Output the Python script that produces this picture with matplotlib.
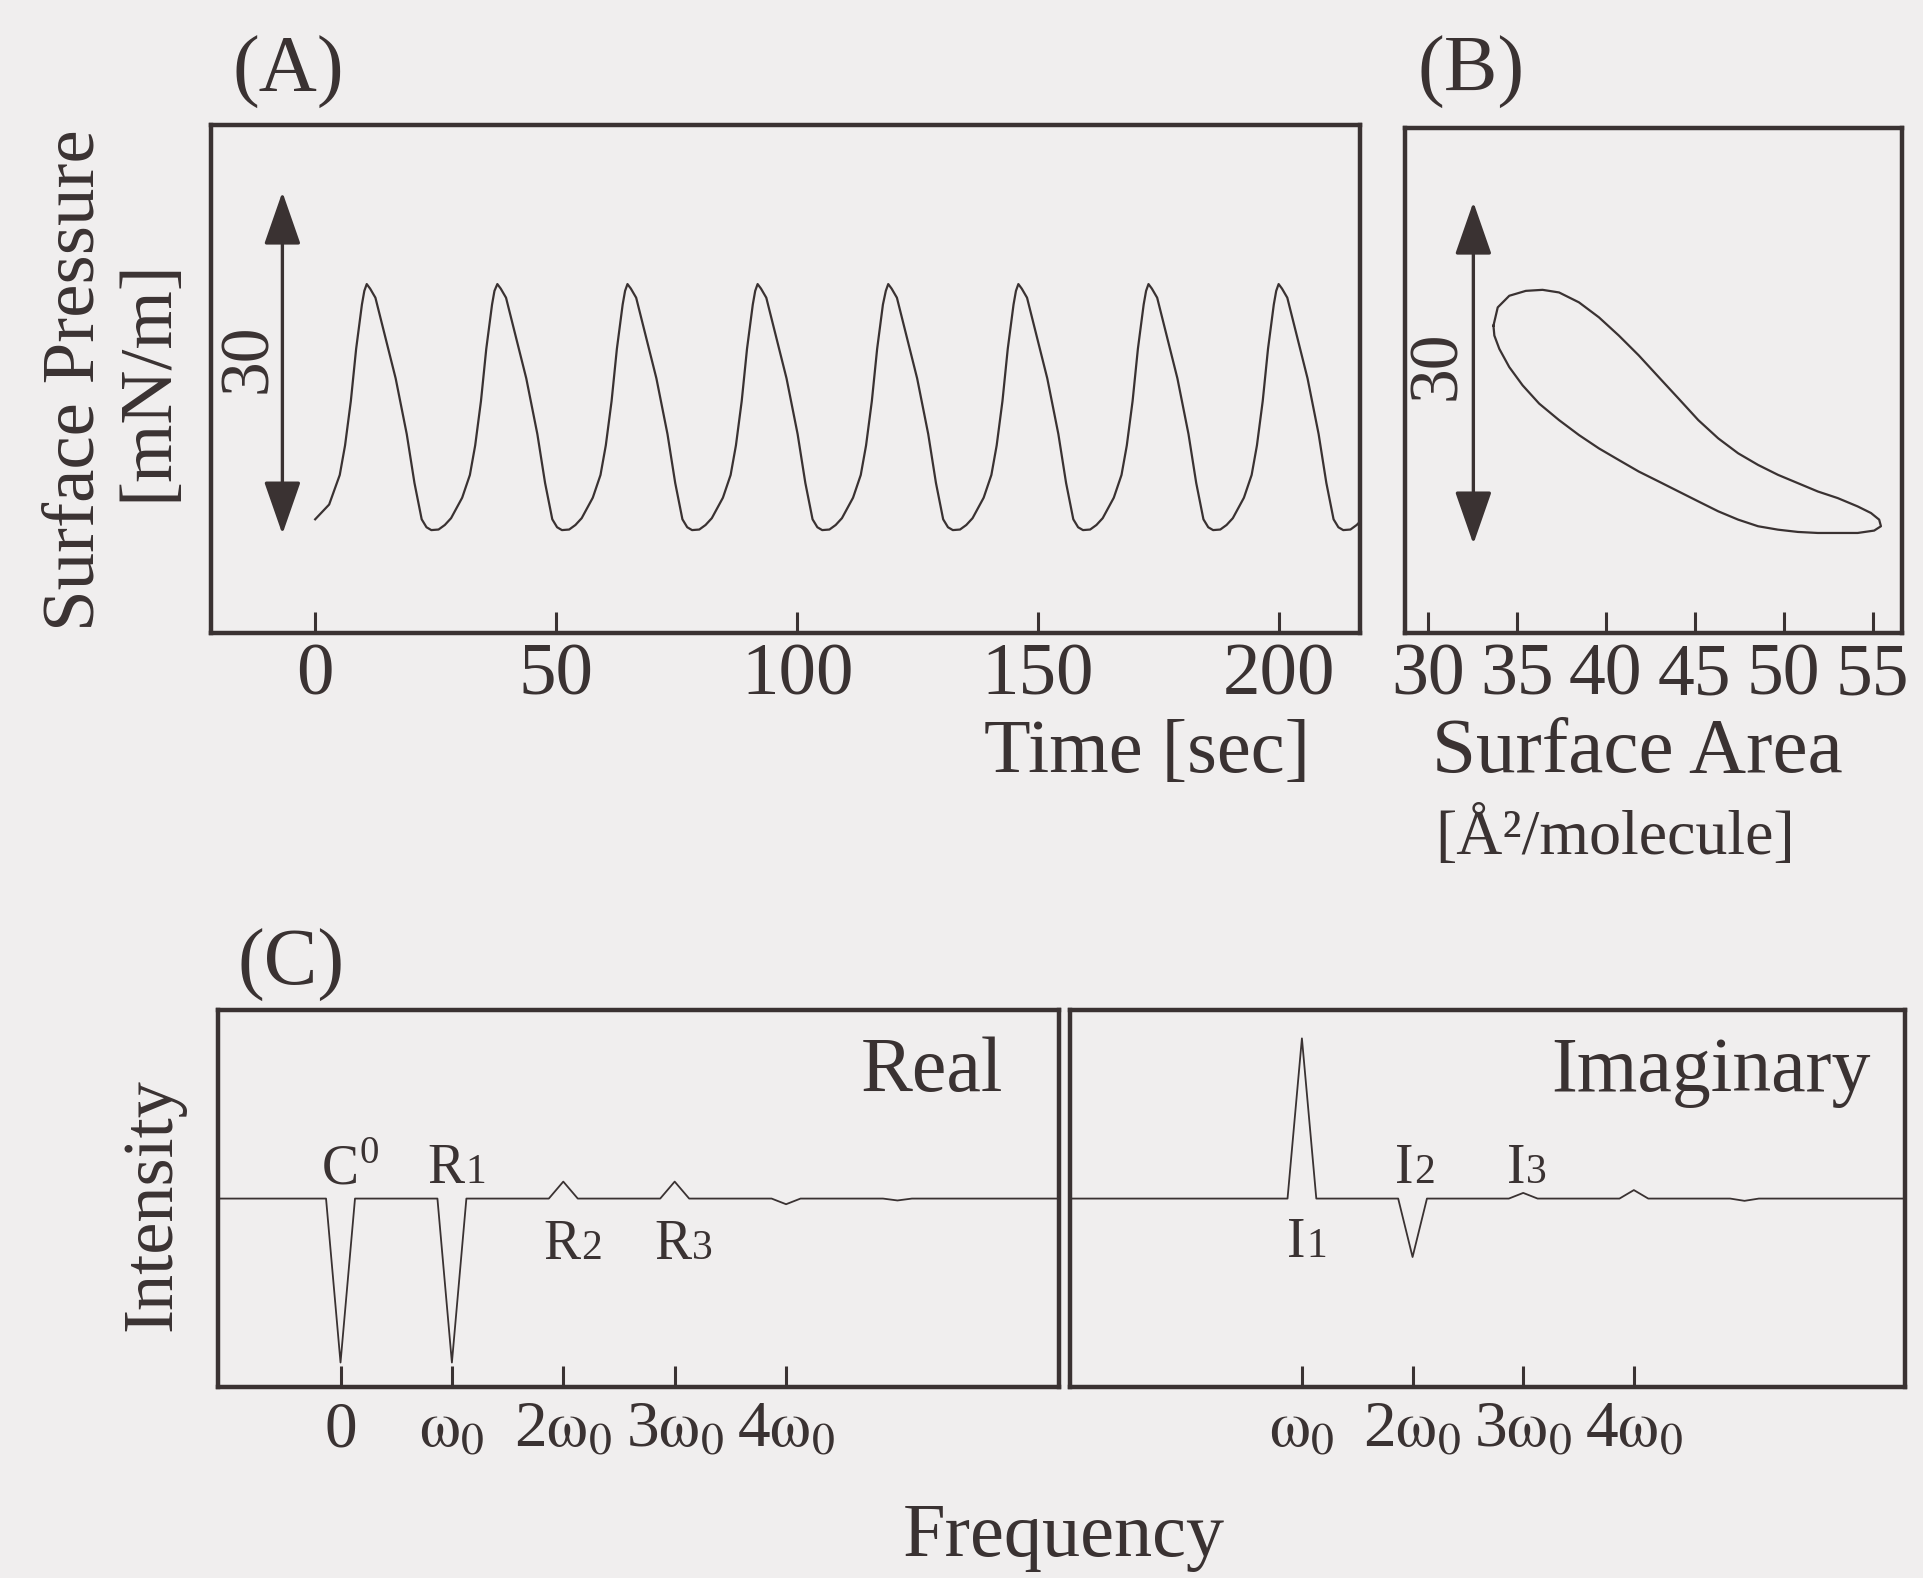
import matplotlib
matplotlib.use('Agg')
import matplotlib.pyplot as plt

plt.rcParams['font.family'] = ['Liberation Serif', 'DejaVu Serif']
plt.rcParams['mathtext.fontset'] = 'stix'

ink = '#3a3232'
paper = '#f0eeee'

# (A) surface pressure oscillation
time_s = [0.0, 2.9, 5.1, 6.2, 7.4, 8.5, 9.7, 10.2,
          10.7, 11.4, 12.5, 14.4, 16.7, 19.0, 20.6, 22.1, 23.1, 24.1, 25.6, 26.9, 28.2, 30.5, 32.1, 33.2, 34.4, 35.5, 36.7, 37.2,
          37.8, 38.5, 39.6, 41.5, 43.8, 46.1, 47.7, 49.2, 50.2, 51.2, 52.7, 54.0, 55.3, 57.6, 59.2, 60.3, 61.5, 62.6, 63.8, 64.3,
          64.8, 65.5, 66.6, 68.5, 70.8, 73.1, 74.7, 76.2, 77.2, 78.2, 79.7, 81.0, 82.3, 84.6, 86.2, 87.3, 88.5, 89.6, 90.8, 91.3,
          91.8, 92.5, 93.6, 95.5, 97.8, 100.1, 101.7, 103.2, 104.2, 105.2, 106.7, 108.0, 109.3, 111.6, 113.2, 114.3, 115.5, 116.6, 117.8, 118.4,
          118.9, 119.6, 120.7, 122.6, 124.9, 127.2, 128.8, 130.3, 131.3, 132.3, 133.8, 135.1, 136.4, 138.7, 140.3, 141.4, 142.6, 143.7, 144.9, 145.4,
          145.9, 146.6, 147.7, 149.6, 151.9, 154.2, 155.8, 157.3, 158.3, 159.3, 160.8, 162.1, 163.4, 165.7, 167.3, 168.4, 169.6, 170.7, 171.9, 172.4,
          172.9, 173.6, 174.7, 176.6, 178.9, 181.2, 182.8, 184.3, 185.3, 186.3, 187.8, 189.1, 190.4, 192.7, 194.3, 195.4, 196.6, 197.7, 198.9, 199.4,
          199.9, 200.6, 201.7, 203.6, 205.9, 208.2, 209.8, 211.3, 212.3, 213.3, 214.8, 216.1, 216.8]
pressure = [10.0, 11.3, 13.9, 16.5, 20.4, 25.0, 28.9, 30.1,
            30.7, 30.3, 29.5, 26.3, 22.4, 17.5, 13.2, 10.0, 9.3, 9.05, 9.1, 9.5, 10.1, 11.9, 13.9, 16.5, 20.4, 25.0, 28.9, 30.1,
            30.7, 30.3, 29.5, 26.3, 22.4, 17.5, 13.2, 10.0, 9.3, 9.05, 9.1, 9.5, 10.1, 11.9, 13.9, 16.5, 20.4, 25.0, 28.9, 30.1,
            30.7, 30.3, 29.5, 26.3, 22.4, 17.5, 13.2, 10.0, 9.3, 9.05, 9.1, 9.5, 10.1, 11.9, 13.9, 16.5, 20.4, 25.0, 28.9, 30.1,
            30.7, 30.3, 29.5, 26.3, 22.4, 17.5, 13.2, 10.0, 9.3, 9.05, 9.1, 9.5, 10.1, 11.9, 13.9, 16.5, 20.4, 25.0, 28.9, 30.1,
            30.7, 30.3, 29.5, 26.3, 22.4, 17.5, 13.2, 10.0, 9.3, 9.05, 9.1, 9.5, 10.1, 11.9, 13.9, 16.5, 20.4, 25.0, 28.9, 30.1,
            30.7, 30.3, 29.5, 26.3, 22.4, 17.5, 13.2, 10.0, 9.3, 9.05, 9.1, 9.5, 10.1, 11.9, 13.9, 16.5, 20.4, 25.0, 28.9, 30.1,
            30.7, 30.3, 29.5, 26.3, 22.4, 17.5, 13.2, 10.0, 9.3, 9.05, 9.1, 9.5, 10.1, 11.9, 13.9, 16.5, 20.4, 25.0, 28.9, 30.1,
            30.7, 30.3, 29.5, 26.3, 22.4, 17.5, 13.2, 10.0, 9.3, 9.05, 9.1, 9.5, 9.8]
a_ticks = [0, 50, 100, 150, 200]

# (B) pressure-area loop (upper branch left->right, lower branch back)
loop_area = [33.68, 33.92, 34.57, 35.50, 36.44, 37.37, 38.49, 39.61, 40.73, 41.85, 42.97, 44.09,
             45.20, 46.32, 47.44, 48.56, 49.68, 50.80, 51.92, 53.04, 54.16, 54.91, 55.37, 55.47,
             55.09, 54.16, 53.04, 51.92, 50.80, 49.68, 48.56, 47.44, 46.32, 45.20, 44.09, 42.97,
             41.85, 40.73, 39.61, 38.49, 37.37, 36.25, 35.32, 34.57, 34.01, 33.73, 33.68]
loop_pressure = [26.96, 28.56, 29.58, 30.01, 30.10, 29.87, 29.00, 27.69, 26.09, 24.35, 22.45, 20.56,
                 18.67, 17.07, 15.76, 14.74, 13.87, 13.14, 12.41, 11.83, 11.10, 10.52, 9.94, 9.36,
                 8.98, 8.77, 8.77, 8.77, 8.86, 9.06, 9.36, 9.94, 10.67, 11.54, 12.41, 13.29,
                 14.16, 15.17, 16.19, 17.36, 18.67, 20.12, 21.72, 23.32, 24.92, 26.09, 26.96]
b_ticks = [30, 35, 40, 45, 50, 55]

# (C) Fourier spectrum, frequency in units of w0
freq = [-1.1, -0.13, 0, 0.13, 0.87, 1, 1.13, 1.87, 2, 2.13, 2.87, 3, 3.13,
        3.87, 4, 4.13, 4.87, 5, 5.13, 6.45]
real_part = [0, 0, -0.87, 0, 0, -0.87, 0, 0, 0.09, 0, 0, 0.09, 0,
             0, -0.03, 0, 0, -0.01, 0, 0]
imag_part = [0, 0, 0, 0, 0, 0.85, 0, 0, -0.31, 0, 0, 0.03, 0,
             0, 0.045, 0, 0, -0.012, 0, 0]
real_ticks = [0, 1, 2, 3, 4]
real_labels = ['0', r'$\mathrm{\omega}_0$', r'2$\mathrm{\omega}_0$', r'3$\mathrm{\omega}_0$', r'4$\mathrm{\omega}_0$']
imag_ticks = [1, 2, 3, 4]
imag_labels = [r'$\mathrm{\omega}_0$', r'2$\mathrm{\omega}_0$', r'3$\mathrm{\omega}_0$', r'4$\mathrm{\omega}_0$']


def frame(ax, size, pad):
    ax.set_facecolor(paper)
    for s in ax.spines.values():
        s.set_linewidth(3.2)
        s.set_color(ink)
    ax.tick_params(axis='x', direction='in', length=15, width=2.2, color=ink,
                   labelsize=size, labelcolor=ink, pad=pad)
    ax.tick_params(axis='y', left=False, labelleft=False)


def arrow30(ax, x, lo, hi, tx, ty):
    ax.annotate('', xy=(x, hi), xytext=(x, lo),
                arrowprops=dict(arrowstyle='<|-|>,head_length=3.3,head_width=1.15',
                                mutation_scale=10, lw=2.4, color=ink,
                                shrinkA=0, shrinkB=0))
    ax.text(tx, ty, '30', rotation=90, ha='center', va='center', fontsize=50, color=ink)


def peak_label(ax, x, y, letter, digit, shift, sup=False):
    ax.text(x, y, letter, fontsize=40, color=ink, ha='left', va='baseline')
    dy = 15 if sup else 0
    ax.annotate(digit, xy=(x, y), xytext=(shift, dy), textcoords='offset points',
                fontsize=28 if sup else 30, color=ink, ha='left', va='baseline')


fig = plt.figure(figsize=(19.24, 15.78), dpi=100, facecolor=paper)

axA = fig.add_axes([0.1097, 0.5989, 0.5972, 0.3219])
frame(axA, 54, 7)
axA.plot(time_s, pressure, lw=1.6, color=ink)
axA.set_xlim(-21.6, 216.8)
axA.set_ylim(0, 44.7)
axA.set_xticks(a_ticks)
arrow30(axA, -6.8, 8.7, 38.8, -13.7, 24.2)

axB = fig.add_axes([0.7302, 0.5989, 0.2586, 0.3200])
frame(axB, 53, 7)
axB.plot(loop_area, loop_pressure, lw=1.6, color=ink)
axB.set_xlim(28.7, 56.68)
axB.set_ylim(0, 44.3)
axB.set_xticks(b_ticks)
arrow30(axB, 32.55, 7.8, 37.8, 30.6, 23.5)

axC1 = fig.add_axes([0.1133, 0.1210, 0.4371, 0.2389])
frame(axC1, 47, 10)
axC1.plot(freq, real_part, lw=1.3, color=ink)
axC1.set_xlim(-1.1, 6.45)
axC1.set_ylim(-1, 1)
axC1.set_xticks(real_ticks, real_labels)
axC1.text(5.95, 0.57, 'Real', fontsize=56, color=ink, ha='right', va='baseline')
peak_label(axC1, -0.17, 0.08, 'C', '0', 27, sup=True)
peak_label(axC1, 0.78, 0.08, 'R', '1', 27)
peak_label(axC1, 1.82, -0.32, 'R', '2', 27)
peak_label(axC1, 2.82, -0.32, 'R', '3', 27)

axC2 = fig.add_axes([0.5559, 0.1210, 0.4342, 0.2389])
frame(axC2, 47, 10)
axC2.plot(freq, imag_part, lw=1.3, color=ink)
axC2.set_xlim(-1.1, 6.45)
axC2.set_ylim(-1, 1)
axC2.set_xticks(imag_ticks, imag_labels)
axC2.text(6.14, 0.57, 'Imaginary', fontsize=56, color=ink, ha='right', va='baseline')
peak_label(axC2, 0.865, -0.31, 'I', '1', 14)
peak_label(axC2, 1.84, 0.085, 'I', '2', 14)
peak_label(axC2, 2.85, 0.085, 'I', '3', 14)

fig.text(0.1211, 0.9417, '(A)', fontsize=58, color=ink, va='baseline')
fig.text(0.7365, 0.9417, '(B)', fontsize=58, color=ink, va='baseline')
fig.text(0.1232, 0.376, '(C)', fontsize=58, color=ink, va='baseline')

fig.text(0.0582, 0.759, 'Surface Pressure\n[mN/m]', rotation=90, fontsize=54, color=ink,
         ha='center', va='center', multialignment='center', linespacing=1.1)
fig.text(0.5962, 0.5108, 'Time [sec]', fontsize=55, color=ink, ha='center', va='baseline')
fig.text(0.851, 0.5108, 'Surface Area', fontsize=57, color=ink, ha='center', va='baseline')
fig.text(0.8395, 0.459, '[Å²/molecule]', fontsize=46, color=ink, ha='center', va='baseline')
fig.text(0.0795, 0.2364, 'Intensity', rotation=90, fontsize=52, color=ink, ha='center', va='center')
fig.text(0.553, 0.014, 'Frequency', fontsize=55, color=ink, ha='center', va='baseline')

fig.savefig('out.png', dpi=100, facecolor=paper)
